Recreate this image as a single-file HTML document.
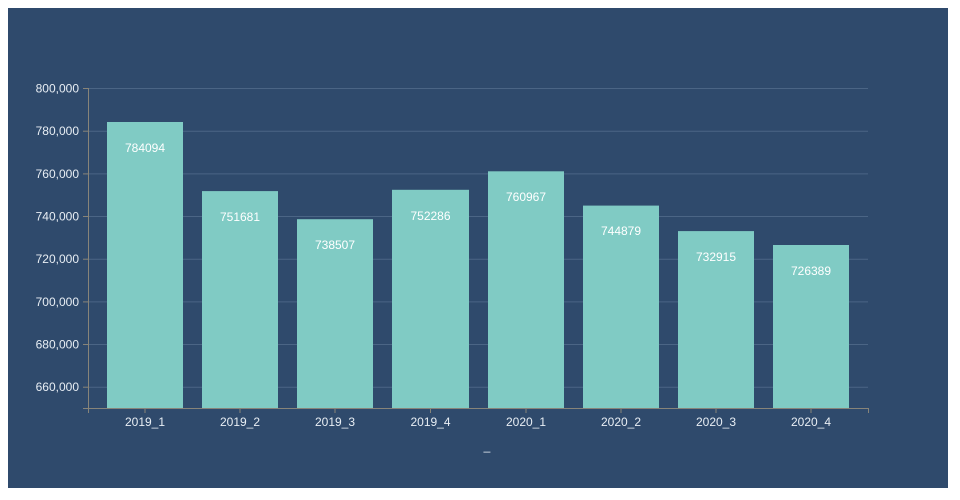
<!DOCTYPE html>
<html><head><meta charset="utf-8"><style>
html,body{margin:0;padding:0;background:#fff;}
svg{display:block;font-family:"Liberation Sans",sans-serif;}
</style></head><body>
<svg width="960" height="500" xmlns="http://www.w3.org/2000/svg">
<rect x="8" y="8" width="940" height="480" fill="#2f4a6c"/>
<g stroke="#4b6585" stroke-width="1">
<line x1="89" y1="88.5" x2="868" y2="88.5"/>
<line x1="89" y1="131.2" x2="868" y2="131.2"/>
<line x1="89" y1="173.9" x2="868" y2="173.9"/>
<line x1="89" y1="216.5" x2="868" y2="216.5"/>
<line x1="89" y1="259.2" x2="868" y2="259.2"/>
<line x1="89" y1="301.9" x2="868" y2="301.9"/>
<line x1="89" y1="344.5" x2="868" y2="344.5"/>
<line x1="89" y1="387.2" x2="868" y2="387.2"/>
</g>
<g fill="#80cbc4">
<rect x="107" y="122" width="76" height="286"/>
<rect x="202" y="191.1" width="76" height="216.9"/>
<rect x="297" y="219.2" width="76" height="188.8"/>
<rect x="392" y="189.8" width="77" height="218.2"/>
<rect x="488" y="171.3" width="76" height="236.7"/>
<rect x="583" y="205.6" width="76" height="202.4"/>
<rect x="678" y="231.1" width="76" height="176.9"/>
<rect x="773" y="245" width="76" height="163"/>
</g>
<g stroke="#878479" stroke-width="1" fill="none">
<line x1="88.5" y1="88" x2="88.5" y2="413"/>
<line x1="83" y1="408.5" x2="868" y2="408.5"/>
<line x1="868.5" y1="408" x2="868.5" y2="413"/>
<line x1="83" y1="88.5" x2="89" y2="88.5"/><line x1="83" y1="131.2" x2="89" y2="131.2"/><line x1="83" y1="173.9" x2="89" y2="173.9"/><line x1="83" y1="216.5" x2="89" y2="216.5"/><line x1="83" y1="259.2" x2="89" y2="259.2"/><line x1="83" y1="301.9" x2="89" y2="301.9"/><line x1="83" y1="344.5" x2="89" y2="344.5"/><line x1="83" y1="387.2" x2="89" y2="387.2"/>
<line x1="145" y1="408" x2="145" y2="413"/><line x1="240" y1="408" x2="240" y2="413"/><line x1="335" y1="408" x2="335" y2="413"/><line x1="430.5" y1="408" x2="430.5" y2="413"/><line x1="526" y1="408" x2="526" y2="413"/><line x1="621" y1="408" x2="621" y2="413"/><line x1="716" y1="408" x2="716" y2="413"/><line x1="811" y1="408" x2="811" y2="413"/>
</g>
<g fill="#e8eef4" font-size="12" text-anchor="end">
<text x="79" y="92.5">800,000</text><text x="79" y="135.2">780,000</text><text x="79" y="177.9">760,000</text><text x="79" y="220.5">740,000</text><text x="79" y="263.2">720,000</text><text x="79" y="305.9">700,000</text><text x="79" y="348.5">680,000</text><text x="79" y="391.2">660,000</text>
</g>
<g fill="#e8eef4" font-size="12" text-anchor="middle">
<text x="145" y="426">2019_1</text><text x="240" y="426">2019_2</text><text x="335" y="426">2019_3</text><text x="430.5" y="426">2019_4</text><text x="526" y="426">2020_1</text><text x="621" y="426">2020_2</text><text x="716" y="426">2020_3</text><text x="811" y="426">2020_4</text>
<text x="487" y="450">_</text>
</g>
<g fill="#ffffff" font-size="12" text-anchor="middle">
<text x="145" y="152">784094</text><text x="240" y="221">751681</text><text x="335" y="249">738507</text><text x="430.5" y="220">752286</text><text x="526" y="201">760967</text><text x="621" y="235">744879</text><text x="716" y="261">732915</text><text x="811" y="275">726389</text>
</g>
</svg>
</body></html>
